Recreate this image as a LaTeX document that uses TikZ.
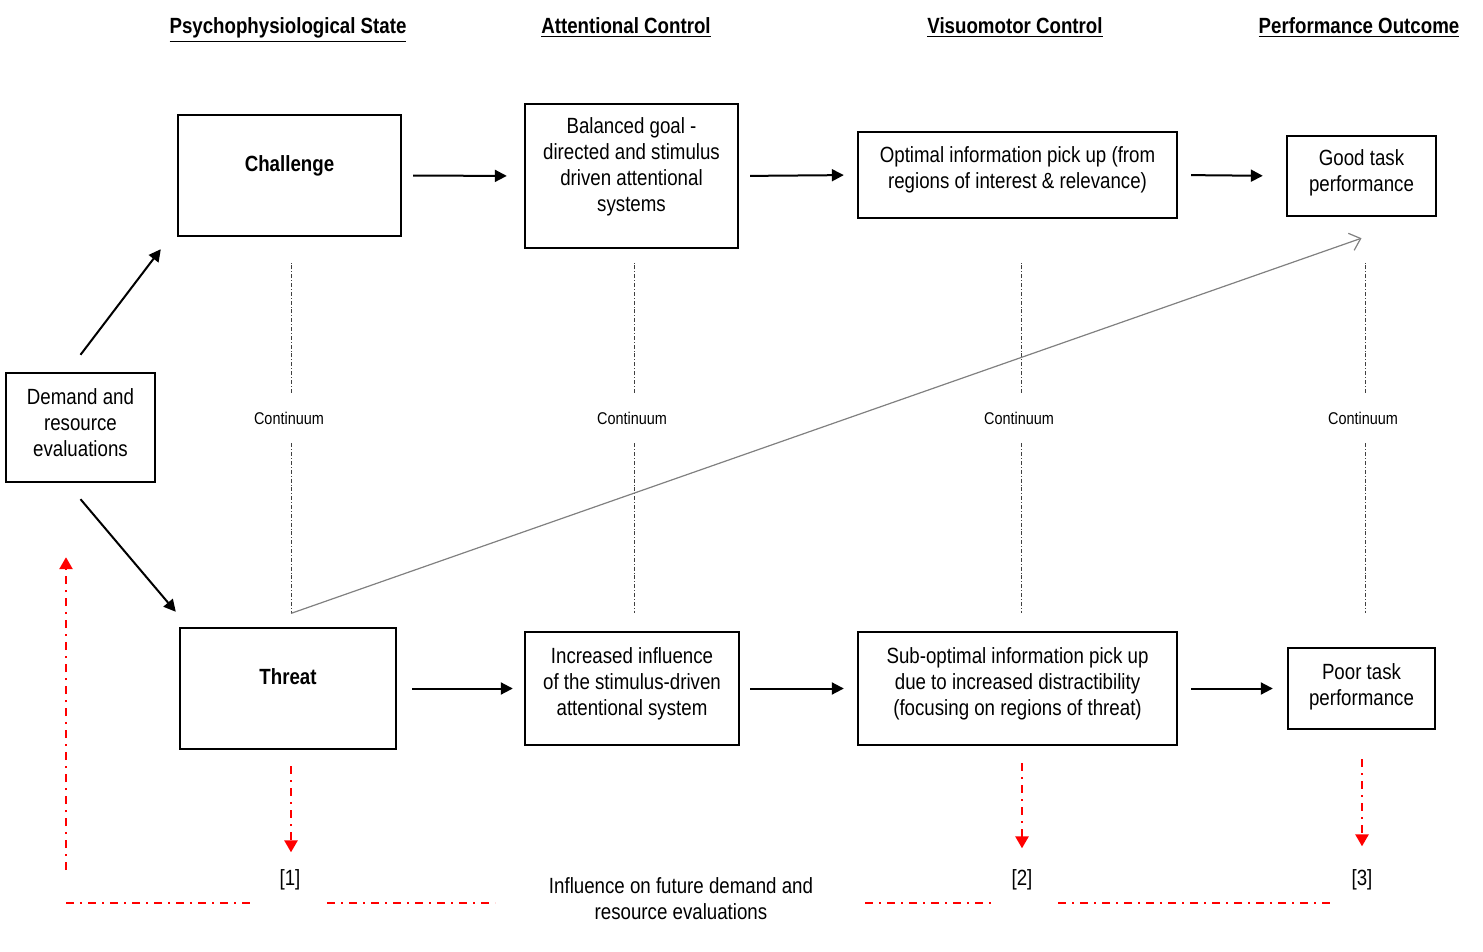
\documentclass[tikz,border=0pt]{standalone}
\usepackage{fontspec}
\setmainfont[FakeStretch=0.85]{Liberation Sans}
\usetikzlibrary{arrows.meta}

\begin{document}
\begin{tikzpicture}[x=0.5pt, y=-0.5pt, font=\fontsize{11}{13}\selectfont,
    box/.style={draw, line width=1.2pt, inner sep=0pt, align=center},
    hdr/.style={font=\fontsize{11}{13}\selectfont\bfseries},
    cont/.style={font=\fontsize{8.5}{10}\selectfont, inner sep=0pt, minimum height=25pt},
    ref/.style={inner sep=1pt},
    link/.style={-{Triangle[length=6pt, width=6pt]}, line width=1pt},
    contline/.style={black!75, line width=0.5pt, dash pattern=on 2pt off 1pt on 0.4pt off 1pt},
    feedback/.style={red, line width=1.3pt, dash pattern=on 4pt off 3pt on 1pt off 3pt},
    fbarrow/.style={feedback, -{Triangle[length=6pt, width=6.5pt]}}]
    \useasboundingbox (0,0) rectangle (1483,952);

    % Column headings
    \node[hdr] (head-1) at (288,30) {\underline{Psychophysiological State}};
    \node[hdr] (head-2) at (626,28) {\underline{Attentional Control}};
    \node[hdr] (head-3) at (1015,28) {\underline{Visuomotor Control}};
    \node[hdr] (head-4) at (1359,28) {\underline{Performance Outcome}};

    % Evaluations (left)
    \node[box, minimum width=74.5pt, minimum height=54.5pt, text depth=5pt] (eval-1) at (80.5,427.5) {Demand and\\resource\\evaluations};

    % Upper row (challenge)
    \node[box, minimum width=111.5pt, minimum height=60.5pt, text depth=12pt, font=\fontsize{11}{13}\selectfont\bfseries] (top-1) at (289.5,175.5) {Challenge};
    \node[box, minimum width=106.5pt, minimum height=72pt, text depth=11pt] (top-2) at (631.5,176) {Balanced goal -\\directed and stimulus\\driven attentional\\systems};
    \node[box, minimum width=159.5pt, minimum height=43pt, text depth=7pt] (top-3) at (1017.5,175) {Optimal information pick up (from\\regions of interest \& relevance)};
    \node[box, minimum width=74.5pt, minimum height=40pt, text depth=5pt] (top-4) at (1361.5,176) {Good task\\performance};

    % Lower row (threat)
    \node[box, minimum width=108pt, minimum height=60.5pt, text depth=12pt, font=\fontsize{11}{13}\selectfont\bfseries] (bot-1) at (288,688.5) {Threat};
    \node[box, minimum width=107pt, minimum height=56.5pt, text depth=7pt] (bot-2) at (632,688.5) {Increased influence\\of the stimulus-driven\\attentional system};
    \node[box, minimum width=159.5pt, minimum height=56.5pt, text depth=7pt] (bot-3) at (1017.5,688.5) {Sub-optimal information pick up\\due to increased distractibility\\(focusing on regions of threat)};
    \node[box, minimum width=73.5pt, minimum height=40.5pt, text depth=4pt] (bot-4) at (1361.5,688.5) {Poor task\\performance};

    % Continuum labels
    \node[cont] (cont-1) at (289,418) {Continuum};
    \node[cont] (cont-2) at (632,418) {Continuum};
    \node[cont] (cont-3) at (1019,418) {Continuum};
    \node[cont] (cont-4) at (1363,418) {Continuum};

    % Feedback labels
    \node[ref] (ref-1) at (290,880) {[1]};
    \node[ref] (ref-2) at (1022,880) {[2]};
    \node[ref] (ref-3) at (1362,880) {[3]};
    \node[align=center, inner sep=0pt] (infl) at (681,899) {Influence on future demand and\\resource evaluations};

    % Arrows from the evaluations
    \draw[link] ([yshift=8.5pt]eval-1.north) -- ([xshift=-8pt, yshift=-6pt]top-1.south west);
    \draw[link] ([yshift=-8pt]eval-1.south) -- ([xshift=-1.5pt, yshift=7.5pt]bot-1.north west);

    % Upper row arrows
    \draw[link, shorten <=5.5pt, shorten >=8.5pt] (top-1.east) -- (top-2.west);
    \draw[link, shorten <=5.5pt, shorten >=6.5pt] (top-2.east) -- (top-3.west);
    \draw[link, shorten <=6.5pt, shorten >=11.5pt] (top-3.east) -- (top-4.west);

    % Lower row arrows
    \draw[link, shorten <=7.5pt, shorten >=5.5pt] (bot-1.east) -- (bot-2.west);
    \draw[link, shorten <=5pt, shorten >=6.5pt] (bot-2.east) -- (bot-3.west);
    \draw[link, shorten <=6.5pt, shorten >=7pt] (bot-3.east) -- (bot-4.west);

    % Continuum lines
    \draw[contline] ([xshift=1pt]cont-1.north) -- ++(0,-130);
    \draw[contline] ([xshift=1pt]cont-1.south) -- ++(0,170) coordinate (cont-1-end);
    \draw[contline] ([xshift=1pt]cont-2.north) -- ++(0,-130);
    \draw[contline] ([xshift=1pt]cont-2.south) -- ++(0,170);
    \draw[contline] ([xshift=1pt]cont-3.north) -- ++(0,-130);
    \draw[contline] ([xshift=1pt]cont-3.south) -- ++(0,170);
    \draw[contline] ([xshift=1pt]cont-4.north) -- ++(0,-130);
    \draw[contline] ([xshift=1pt]cont-4.south) -- ++(0,170);

    % Threat to good performance
    \draw[gray, line width=0.6pt, -{Straight Barb[length=5pt, width=9pt]}] (cont-1-end) -- ([yshift=-10.5pt]top-4.south);

    % Feedback arrows
    \draw[fbarrow, shorten <=8pt, shorten >=7.5pt] ([xshift=0.5pt]ref-1.north |- bot-1.south) -- ([xshift=0.5pt]ref-1.north);
    \draw[fbarrow, shorten <=8.5pt, shorten >=9.5pt] (ref-2.north |- bot-3.south) -- (ref-2.north);
    \draw[fbarrow, shorten <=14.5pt, shorten >=10.5pt] (ref-3.north |- bot-4.south) -- (ref-3.north);

    % Feedback line to the evaluations
    \coordinate (fb-start) at (66,870);
    \draw[fbarrow, shorten >=37pt] (fb-start) -- (fb-start |- eval-1.south);
    \draw[feedback] (66,903) -- (255,903);
    \draw[feedback] (327,903) -- (495,903);
    \draw[feedback] (865,903) -- (993,903);
    \draw[feedback] (1058,903) -- (1333,903);
\end{tikzpicture}
\end{document}
